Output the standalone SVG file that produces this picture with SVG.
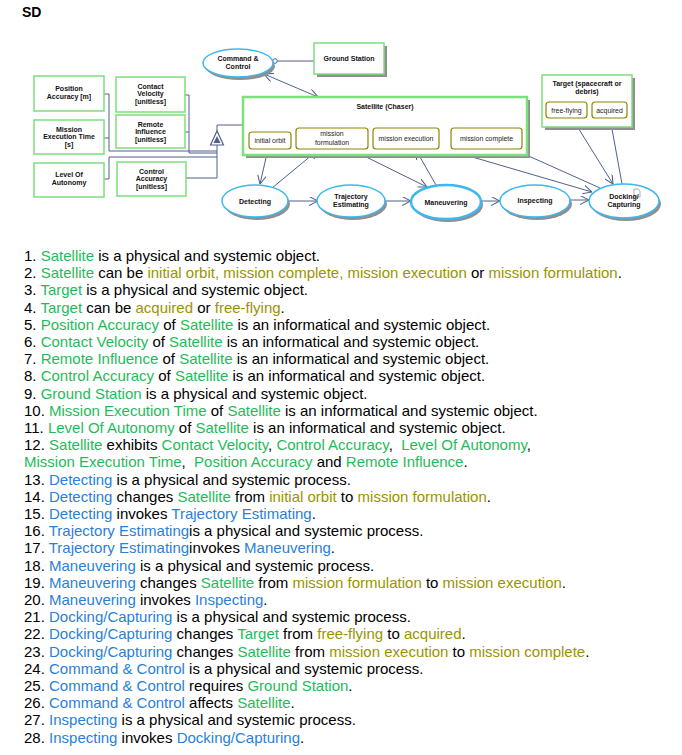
<svg xmlns="http://www.w3.org/2000/svg" width="682" height="755" viewBox="0 0 682 755">
<defs>
<style>
.obj{fill:#fff;stroke:#7ddf7d;stroke-width:1.5}
.sat{fill:#fff;stroke:#7ddf7d;stroke-width:2.5}
.sh{fill:#8f8f8f}
.state{fill:#fff;stroke:#8c8600;stroke-width:1.2}
.proc{fill:#fff;stroke:#3db7ef;stroke-width:1.5}
.lnk{stroke:#52618c;stroke-width:1;fill:none}
.lbl{font-family:"Liberation Sans",Arial,sans-serif;font-size:7px;font-weight:bold;text-anchor:middle;fill:#111}
.stl{font-family:"Liberation Sans",Arial,sans-serif;font-size:6.9px;text-anchor:middle;fill:#222}
.ls{font-family:"Liberation Sans",Arial,sans-serif;font-size:15px;fill:#000;white-space:pre}
.g{fill:#1fbb5a}
.o{fill:#9a9400}
.b{fill:#2a7fd8}
</style>
<marker id="ah" viewBox="0 0 10 10" refX="10" refY="5" markerWidth="9" markerHeight="9" markerUnits="userSpaceOnUse" orient="auto-start-reverse">
<path d="M0,0 L10,5 L0,10" fill="none" stroke="#52618c" stroke-width="1.2"/>
</marker>
</defs>
<rect width="682" height="755" fill="#fff"/>
<text x="22" y="17" style="font-family:'Liberation Sans',Arial,sans-serif;font-size:14px;font-weight:bold">SD</text>

<g id="connectors">
<circle cx="275" cy="61" r="2.3" fill="#fff" stroke="#52618c" stroke-width="1"/>
<line class="lnk" x1="277.3" y1="61" x2="314" y2="61"/>
<line class="lnk" x1="264" y1="74" x2="318" y2="97" marker-start="url(#ah)" marker-end="url(#ah)"/>
<path class="lnk" d="M217,131 V125 H243"/>
<path class="lnk" d="M104,94 H109 V151 H217"/>
<path class="lnk" d="M104,138 H109"/>
<path class="lnk" d="M185,95 H189 V153 H217"/>
<path class="lnk" d="M185,132 H189"/>
<path class="lnk" d="M104,179 H109 V157 H217"/>
<path class="lnk" d="M186,178 H217 V145"/>
<line class="lnk" x1="268" y1="149" x2="260" y2="184" marker-end="url(#ah)"/>
<line class="lnk" x1="272" y1="188" x2="318" y2="150" marker-end="url(#ah)"/>
<line class="lnk" x1="350" y1="149" x2="427" y2="187" marker-end="url(#ah)"/>
<line class="lnk" x1="436" y1="185" x2="416" y2="150" marker-end="url(#ah)"/>
<line class="lnk" x1="445" y1="149" x2="592" y2="192" marker-end="url(#ah)"/>
<line class="lnk" x1="600" y1="188" x2="513" y2="149" marker-end="url(#ah)"/>
<line class="lnk" x1="572" y1="118" x2="613" y2="184" marker-end="url(#ah)"/>
<line class="lnk" x1="622" y1="184" x2="610" y2="118" marker-end="url(#ah)"/>
<line class="lnk" x1="289" y1="201" x2="318" y2="201" marker-end="url(#ah)"/>
<line class="lnk" x1="385" y1="201" x2="411" y2="201" marker-end="url(#ah)"/>
<line class="lnk" x1="481" y1="201" x2="500" y2="201" marker-end="url(#ah)"/>
<line class="lnk" x1="570" y1="200" x2="589" y2="200" marker-end="url(#ah)"/>
<polygon points="217,131 210.5,145 223.5,145" fill="#fff" stroke="#52618c" stroke-width="1.2"/>
<polygon points="217,136 213.5,143 220.5,143" fill="#52618c"/>
</g>

<g id="command-control">
<ellipse class="sh" cx="240" cy="66" rx="35" ry="14"/>
<ellipse class="proc" cx="238" cy="63" rx="35" ry="14"/>
<text class="lbl" x="238" y="60.5">Command &amp;</text>
<text class="lbl" x="238" y="68.5">Control</text>
</g>
<g id="ground-station">
<rect class="sh" x="317" y="46" width="70" height="31"/>
<rect class="obj" x="314" y="43" width="70" height="31"/>
<text class="lbl" x="349" y="61">Ground Station</text>
</g>
<g id="target">
<rect class="sh" x="545" y="78" width="90" height="52"/>
<rect class="obj" x="542" y="75" width="90" height="52"/>
<text class="lbl" x="587" y="86">Target (spacecraft or</text>
<text class="lbl" x="587" y="94">debris)</text>
<rect class="state" x="546" y="102" width="41" height="16" rx="3"/>
<text class="stl" x="566.5" y="112.5">free-flying</text>
<rect class="state" x="592" y="102" width="35" height="16" rx="3"/>
<text class="stl" x="609.5" y="112.5">acquired</text>
</g>
<g id="satellite">
<rect class="sh" x="246" y="100" width="284" height="58"/>
<rect class="sat" x="243" y="97" width="284" height="58"/>
<text class="lbl" x="385" y="109">Satellite (Chaser)</text>
<rect class="state" x="249" y="132" width="42" height="17" rx="3"/>
<text class="stl" x="270" y="142.5">initial orbit</text>
<rect class="state" x="296" y="128" width="72" height="21" rx="3"/>
<text class="stl" x="332" y="136">mission</text>
<text class="stl" x="332" y="144.5">formulation</text>
<rect class="state" x="373" y="128" width="66" height="21" rx="3"/>
<text class="stl" x="406" y="140.5">mission execution</text>
<rect class="state" x="451" y="128" width="71" height="21" rx="3"/>
<text class="stl" x="486.5" y="140.5">mission complete</text>
</g>
<g id="position-accuracy">
<rect class="obj" x="34" y="76" width="70" height="35"/>
<text class="lbl" x="69" y="90.5">Position</text>
<text class="lbl" x="69" y="98.5">Accuracy [m]</text>
</g>
<g id="contact-velocity">
<rect class="obj" x="116" y="77" width="69" height="35"/>
<text class="lbl" x="150.5" y="88.5">Contact</text>
<text class="lbl" x="150.5" y="96">Velocity</text>
<text class="lbl" x="150.5" y="103.5">[unitless]</text>
</g>
<g id="mission-execution-time">
<rect class="obj" x="34" y="120" width="70" height="34"/>
<text class="lbl" x="69" y="131.5">Mission</text>
<text class="lbl" x="69" y="139">Execution Time</text>
<text class="lbl" x="69" y="146.5">[s]</text>
</g>
<g id="remote-influence">
<rect class="obj" x="116" y="115" width="69" height="33"/>
<text class="lbl" x="150.5" y="126.5">Remote</text>
<text class="lbl" x="150.5" y="134">Influence</text>
<text class="lbl" x="150.5" y="141.5">[unitless]</text>
</g>
<g id="level-of-autonomy">
<rect class="obj" x="34" y="163" width="70" height="34"/>
<text class="lbl" x="69" y="177">Level Of</text>
<text class="lbl" x="69" y="185">Autonomy</text>
</g>
<g id="control-accuracy">
<rect class="obj" x="117" y="162" width="69" height="34"/>
<text class="lbl" x="151.5" y="173.5">Control</text>
<text class="lbl" x="151.5" y="181">Accuracy</text>
<text class="lbl" x="151.5" y="188.5">[unitless]</text>
</g>
<g id="detecting">
<ellipse class="sh" cx="257" cy="204" rx="33" ry="16"/>
<ellipse class="proc" cx="255" cy="201" rx="33" ry="16"/>
<text class="lbl" x="255" y="204">Detecting</text>
</g>
<g id="trajectory-estimating">
<ellipse class="sh" cx="353" cy="204" rx="34" ry="16"/>
<ellipse class="proc" cx="351" cy="201" rx="34" ry="16"/>
<text class="lbl" x="351" y="198.5">Trajectory</text>
<text class="lbl" x="351" y="206.5">Estimating</text>
</g>
<g id="maneuvering">
<ellipse class="sh" cx="448" cy="205" rx="35" ry="17"/>
<ellipse class="proc" cx="446" cy="202" rx="35" ry="17" style="stroke-width:2.5"/>
<text class="lbl" x="446" y="205">Maneuvering</text>
</g>
<g id="inspecting">
<ellipse class="sh" cx="537" cy="204" rx="35" ry="16"/>
<ellipse class="proc" cx="535" cy="201" rx="35" ry="16"/>
<text class="lbl" x="535" y="203">Inspecting</text>
</g>
<g id="docking-capturing">
<ellipse class="sh" cx="626" cy="204" rx="35" ry="17"/>
<ellipse class="proc" cx="624" cy="201" rx="35" ry="17"/>
<path d="M634,189 h4 l2,2 v6 h-6 z" fill="#fff" stroke="#777" stroke-width="0.6"/>
<text class="lbl" x="624" y="199">Docking/</text>
<text class="lbl" x="624" y="207">Capturing</text>
</g>

<g id="text-list">
<text class="ls" x="24" y="261">1. <tspan class="g">Satellite</tspan> is a physical and systemic object.</text>
<text class="ls" x="24" y="278.2">2. <tspan class="g">Satellite</tspan> can be <tspan class="o">initial orbit, mission complete, mission execution</tspan> or <tspan class="o">mission formulation</tspan>.</text>
<text class="ls" x="24" y="295.4">3. <tspan class="g">Target</tspan> is a physical and systemic object.</text>
<text class="ls" x="24" y="312.6">4. <tspan class="g">Target</tspan> can be <tspan class="o">acquired</tspan> or <tspan class="o">free-flying</tspan>.</text>
<text class="ls" x="24" y="329.8">5. <tspan class="g">Position Accuracy</tspan> of <tspan class="g">Satellite</tspan> is an informatical and systemic object.</text>
<text class="ls" x="24" y="347">6. <tspan class="g">Contact Velocity</tspan> of <tspan class="g">Satellite</tspan> is an informatical and systemic object.</text>
<text class="ls" x="24" y="364.2">7. <tspan class="g">Remote Influence</tspan> of <tspan class="g">Satellite</tspan> is an informatical and systemic object.</text>
<text class="ls" x="24" y="381.4">8. <tspan class="g">Control Accuracy</tspan> of <tspan class="g">Satellite</tspan> is an informatical and systemic object.</text>
<text class="ls" x="24" y="398.6">9. <tspan class="g">Ground Station</tspan> is a physical and systemic object.</text>
<text class="ls" x="24" y="415.8">10. <tspan class="g">Mission Execution Time</tspan> of <tspan class="g">Satellite</tspan> is an informatical and systemic object.</text>
<text class="ls" x="24" y="433">11. <tspan class="g">Level Of Autonomy</tspan> of <tspan class="g">Satellite</tspan> is an informatical and systemic object.</text>
<text class="ls" x="24" y="450.2">12. <tspan class="g">Satellite</tspan> exhibits <tspan class="g">Contact Velocity</tspan>, <tspan class="g">Control Accuracy</tspan>,  <tspan class="g">Level Of Autonomy</tspan>,</text>
<text class="ls" x="24" y="467.4"><tspan class="g">Mission Execution Time</tspan>,  <tspan class="g">Position Accuracy</tspan> and <tspan class="g">Remote Influence</tspan>.</text>
<text class="ls" x="24" y="484.6">13. <tspan class="b">Detecting</tspan> is a physical and systemic process.</text>
<text class="ls" x="24" y="501.8">14. <tspan class="b">Detecting</tspan> changes <tspan class="g">Satellite</tspan> from <tspan class="o">initial orbit</tspan> to <tspan class="o">mission formulation</tspan>.</text>
<text class="ls" x="24" y="519">15. <tspan class="b">Detecting</tspan> invokes <tspan class="b">Trajectory Estimating</tspan>.</text>
<text class="ls" x="24" y="536.2">16. <tspan class="b">Trajectory Estimating</tspan>is a physical and systemic process.</text>
<text class="ls" x="24" y="553.4">17. <tspan class="b">Trajectory Estimating</tspan>invokes <tspan class="b">Maneuvering</tspan>.</text>
<text class="ls" x="24" y="570.6">18. <tspan class="b">Maneuvering</tspan> is a physical and systemic process.</text>
<text class="ls" x="24" y="587.8">19. <tspan class="b">Maneuvering</tspan> changes <tspan class="g">Satellite</tspan> from <tspan class="o">mission formulation</tspan> to <tspan class="o">mission execution</tspan>.</text>
<text class="ls" x="24" y="605">20. <tspan class="b">Maneuvering</tspan> invokes <tspan class="b">Inspecting</tspan>.</text>
<text class="ls" x="24" y="622.2">21. <tspan class="b">Docking/Capturing</tspan> is a physical and systemic process.</text>
<text class="ls" x="24" y="639.4">22. <tspan class="b">Docking/Capturing</tspan> changes <tspan class="g">Target</tspan> from <tspan class="o">free-flying</tspan> to <tspan class="o">acquired</tspan>.</text>
<text class="ls" x="24" y="656.6">23. <tspan class="b">Docking/Capturing</tspan> changes <tspan class="g">Satellite</tspan> from <tspan class="o">mission execution</tspan> to <tspan class="o">mission complete</tspan>.</text>
<text class="ls" x="24" y="673.8">24. <tspan class="b">Command &amp; Control</tspan> is a physical and systemic process.</text>
<text class="ls" x="24" y="691">25. <tspan class="b">Command &amp; Control</tspan> requires <tspan class="g">Ground Station</tspan>.</text>
<text class="ls" x="24" y="708.2">26. <tspan class="b">Command &amp; Control</tspan> affects <tspan class="g">Satellite</tspan>.</text>
<text class="ls" x="24" y="725.4">27. <tspan class="b">Inspecting</tspan> is a physical and systemic process.</text>
<text class="ls" x="24" y="742.6">28. <tspan class="b">Inspecting</tspan> invokes <tspan class="b">Docking/Capturing</tspan>.</text>
</g>
</svg>
